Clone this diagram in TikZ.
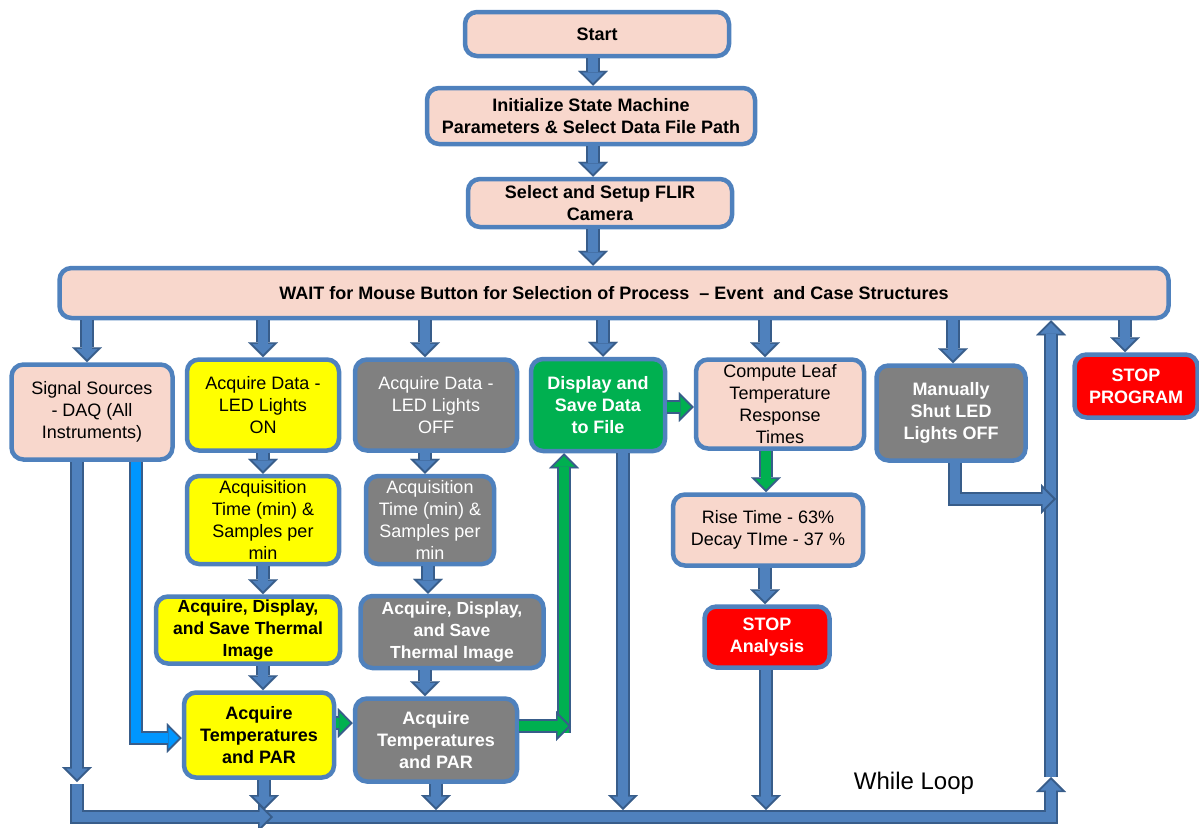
\documentclass[tikz,border=0pt]{standalone}
\usepackage{fontspec}
\setmainfont{Liberation Sans}
\usetikzlibrary{arrows.meta}
\definecolor{boxborder}{RGB}{79,129,189}
\definecolor{afill}{RGB}{79,129,189}
\definecolor{aborder}{RGB}{56,93,138}
\definecolor{pinkf}{RGB}{248,215,204}
\definecolor{yellowf}{RGB}{255,255,0}
\definecolor{grayf}{RGB}{128,128,128}
\definecolor{greenf}{RGB}{0,176,80}
\definecolor{redf}{RGB}{255,0,0}
\definecolor{lblue}{RGB}{0,150,255}
\tikzset{
  box/.style={draw=boxborder, line width=4.5pt, rounded corners=12pt, align=center, inner sep=2pt,
    font=\fontsize{18}{22}\selectfont},
  sz/.style 2 args={minimum width=#1pt, minimum height=#2pt},
  pinkbox/.style={box, fill=pinkf},
  pinkbold/.style={box, fill=pinkf, font=\fontsize{18}{22}\selectfont\bfseries},
  yelbox/.style={box, fill=yellowf},
  yelbold/.style={box, fill=yellowf, font=\fontsize{18}{22}\selectfont\bfseries},
  graybox/.style={box, fill=grayf, text=white},
  graybold/.style={box, fill=grayf, text=white, font=\fontsize{18}{22}\selectfont\bfseries},
  greenbold/.style={box, fill=greenf, text=white, font=\fontsize{18}{22}\selectfont\bfseries},
  redbold/.style={box, fill=redf, text=white, font=\fontsize{18}{22}\selectfont\bfseries},
  aout/.style={line width=14pt, draw=aborder, line join=miter,
    -{Triangle[length=15pt,width=30pt,line width=0.1pt]}},
  ain/.style={line width=9.5pt, line join=miter, shorten >=2.8pt,
    -{Triangle[length=10.5pt,width=21pt,line width=0.1pt]}},
}
\newcommand\blockarrow[2][afill]{\draw[aout] #2; \draw[ain, draw=#1] #2;}
\begin{document}
\begin{tikzpicture}[x=1pt,y=-1pt]
\useasboundingbox (0,0) rectangle (1199,827);
% nodes
\node[pinkbold, sz={264}{44}] (start) at (597,34) {Start};
\node[pinkbold, sz={328}{56}] (init) at (591,116) {Initialize State Machine\\Parameters \& Select Data File Path};
\node[pinkbold, sz={264}{48}] (flir) at (600,203) {Select and Setup FLIR\\Camera};
\node[pinkbold, sz={1109}{50}] (wait) at (614,293) {WAIT for Mouse Button for Selection of Process\ \ – Event\ \ and Case Structures};
\node[pinkbox, sz={161}{95}] (sig) at (92,412) {Signal Sources\\- DAQ (All\\Instruments)};
\node[yelbox, sz={152}{91}] (on) at (263,405) {Acquire Data -\\LED Lights\\ON};
\node[graybox, sz={162}{91}] (off) at (436,405) {Acquire Data -\\LED Lights\\OFF};
\node[greenbold, sz={134}{92}] (disp) at (598,405) {Display and\\Save Data\\to File};
\node[pinkbox, sz={168}{89}] (comp) at (780,404) {Compute Leaf\\Temperature\\Response\\Times};
\node[graybold, sz={149}{95}] (man) at (951,413) {Manually\\Shut LED\\Lights OFF};
\node[redbold, sz={123}{63}] (stopp) at (1136,386) {STOP\\PROGRAM};
\node[yelbox, sz={152}{88}] (acqon) at (263,520) {Acquisition\\Time (min) \&\\Samples per\\min};
\node[graybox, sz={128}{88}] (acqoff) at (430,520) {Acquisition\\Time (min) \&\\Samples per\\min};
\node[yelbold, sz={184}{67}, font=\fontsize{17.5}{22}\selectfont\bfseries] (thon) at (248,630) {Acquire, Display,\\and Save Thermal\\Image};
\node[graybold, sz={183}{72}, font=\fontsize{17.5}{22}\selectfont\bfseries] (thoff) at (452,632) {Acquire, Display,\\and Save\\Thermal Image};
\node[yelbold, sz={150}{85}] (tpon) at (259,735) {Acquire\\Temperatures\\and PAR};
\node[graybold, sz={162}{83}] (tpoff) at (436,740) {Acquire\\Temperatures\\and PAR};
\node[pinkbox, sz={190}{71}] (rise) at (768,530) {Rise Time - 63\%\\Decay TIme - 37 \%};
\node[redbold, sz={125}{61}] (stopa) at (767,637) {STOP\\Analysis};
\node[font=\fontsize{24}{28}\selectfont] (while) at (914,783) {While Loop};
% coordinates
\coordinate (loopL) at (77,782);
\coordinate (loopM) at (273,817);
\coordinate (loopR) at (1051,777);
\coordinate (bt) at (0,810);
\coordinate (manend) at (1056,499);
\coordinate (gch) at (571,726);
\coordinate (gcv) at (564,733);
\coordinate (a1) at ([xshift=-4pt]start.south);
\coordinate (a2) at ([xshift=2pt]init.south);
\coordinate (a3) at ([xshift=-7pt]flir.south);
\coordinate (b1) at ([xshift=-5pt]sig.north);
\coordinate (b3) at ([xshift=-11pt]off.north);
\coordinate (b4) at ([xshift=5pt]disp.north);
\coordinate (b5) at ([xshift=-15pt]comp.north);
\coordinate (b6) at ([xshift=2pt]man.north);
\coordinate (b7) at ([xshift=-11pt]stopp.north);
\coordinate (c1) at ([xshift=-11pt]off.south);
\coordinate (c2) at ([xshift=-2pt]acqoff.south);
\coordinate (c3) at ([xshift=15pt]thon.south);
\coordinate (c4) at ([xshift=-27pt]thoff.south);
\coordinate (c5) at ([xshift=-14pt]comp.south);
\coordinate (c6) at ([xshift=-3pt]rise.south);
\coordinate (h1) at ([yshift=12pt]tpon.east);
\coordinate (h2) at ([yshift=-2pt]disp.east);
\coordinate (s1) at ([xshift=44pt]sig.south);
\coordinate (s2) at ([xshift=-15pt]sig.south);
\coordinate (m1) at ([xshift=4pt]man.south);
\coordinate (d1) at ([xshift=5pt]tpon.south);
\coordinate (d3) at ([xshift=25pt]disp.south);
\coordinate (d4) at ([xshift=-1pt]stopa.south);
% top chain
\blockarrow{(a1) -- (a1 |- init.north)}
\blockarrow{(a2) -- (a2 |- flir.north)}
\blockarrow{(a3) -- (a3 |- wait.north)}
% wait to cases
\blockarrow{(b1 |- wait.south) -- (b1)}
\blockarrow{(on.north |- wait.south) -- (on.north)}
\blockarrow{(b3 |- wait.south) -- (b3)}
\blockarrow{(b4 |- wait.south) -- (b4)}
\blockarrow{(b5 |- wait.south) -- (b5)}
\blockarrow{(b6 |- wait.south) -- (b6)}
\blockarrow{(b7 |- wait.south) -- (b7)}
% columns
\blockarrow{(on.south) -- (on.south |- acqon.north)}
\blockarrow{(c1) -- (c1 |- acqoff.north)}
\blockarrow{(acqon.south) -- (acqon.south |- thon.north)}
\blockarrow{(c2) -- (c2 |- thoff.north)}
\blockarrow{(c3) -- (c3 |- tpon.north)}
\blockarrow{(c4) -- (c4 |- tpoff.north)}
\blockarrow[greenf]{(c5) -- (c5 |- rise.north)}
\blockarrow{(c6) -- (c6 |- stopa.north)}
% green connectors
\blockarrow[greenf]{(h1) -- (h1 -| tpoff.west)}
\blockarrow[greenf]{(h2) -- (h2 -| comp.west)}
\blockarrow[greenf]{(gcv) -- (gcv |- disp.south)}
\blockarrow[greenf]{(tpoff.east |- gch) -- (gch)}
% signal sources light blue
\blockarrow[lblue]{(s1) |- ([yshift=-3pt]tpon.west)}
% loop
\blockarrow{(loopR) -- (loopR |- wait.south)}
\blockarrow{([xshift=-12pt]loopM) -| (loopR)}
\blockarrow{([yshift=-2pt]loopL) |- (loopM)}
\blockarrow{(s2) -- (loopL)}
\blockarrow{(d1) -- (d1 |- bt)}
\blockarrow{(tpoff.south) -- (tpoff.south |- bt)}
\blockarrow{(d3) -- (d3 |- bt)}
\blockarrow{(d4) -- (d4 |- bt)}
\blockarrow{(m1) |- (manend)}
\end{tikzpicture}
\end{document}
